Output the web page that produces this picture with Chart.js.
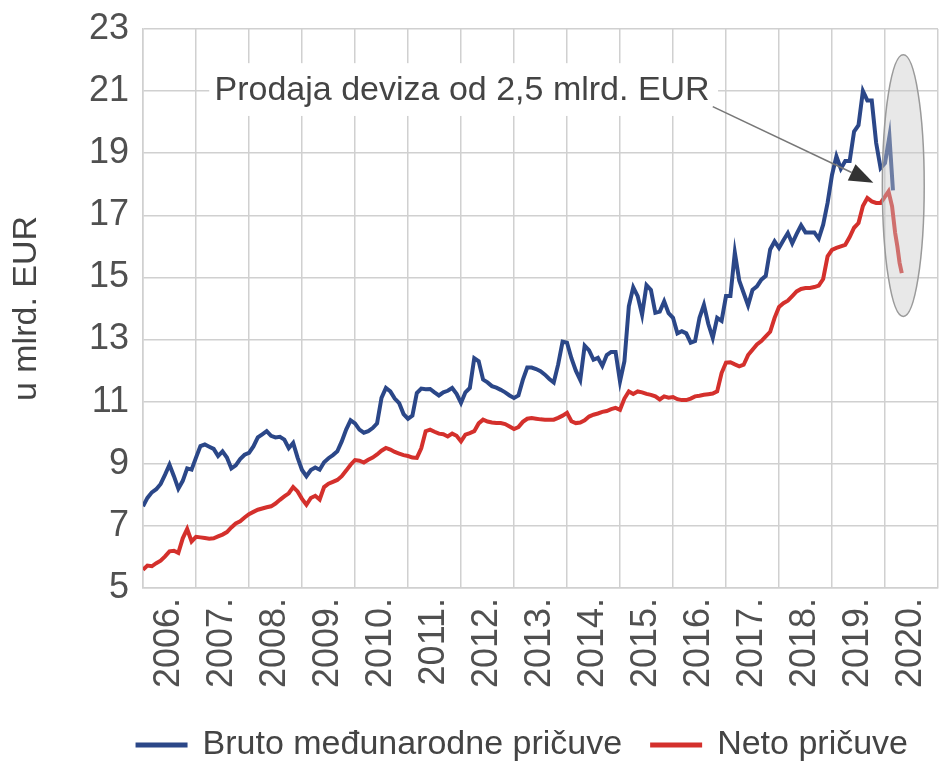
<!DOCTYPE html>
<html>
<head>
<meta charset="utf-8">
<script src="https://cdn.jsdelivr.net/npm/chart.js@4.4.1/dist/chart.umd.min.js"></script>
<style>
  html, body { margin: 0; padding: 0; background: #fff; }
  #wrap { width: 939px; height: 762px; }
</style>
</head>
<body>
<div id="wrap"><canvas id="rezerve"></canvas></div>
<script>
// monthly values, Jan 2006 .. Dec 2019 (mlrd. EUR)
const bruto = [
  7.63, 7.90, 8.08, 8.18, 8.35, 8.65, 8.97, 8.60, 8.20, 8.45, 8.85, 8.81,
  9.20, 9.57, 9.62, 9.55, 9.48, 9.25, 9.40, 9.20, 8.85, 8.95, 9.15, 9.29,
  9.35, 9.56, 9.85, 9.95, 10.05, 9.90, 9.85, 9.87, 9.78, 9.50, 9.67, 9.20,
  8.80, 8.60, 8.80, 8.88, 8.81, 9.05, 9.18, 9.28, 9.40, 9.72, 10.10, 10.40,
  10.30, 10.10, 10.00, 10.05, 10.15, 10.30, 11.12, 11.44, 11.33, 11.10, 10.95, 10.60,
  10.45, 10.55, 11.28, 11.42, 11.40, 11.41, 11.30, 11.20, 11.30, 11.35, 11.44, 11.25,
  10.96, 11.30, 11.44, 12.40, 12.30, 11.71, 11.62, 11.50, 11.45, 11.38, 11.30, 11.20,
  11.12, 11.20, 11.70, 12.10, 12.10, 12.05, 11.98, 11.87, 11.73, 11.62, 12.20, 12.93,
  12.90, 12.40, 12.00, 11.70, 12.80, 12.65, 12.35, 12.41, 12.15, 12.50, 12.60, 12.60,
  11.65, 12.30, 14.07, 14.68, 14.40, 13.80, 14.75, 14.60, 13.86, 13.90, 14.23, 13.85,
  13.70, 13.20, 13.27, 13.20, 12.90, 12.95, 13.70, 14.12, 13.50, 13.05, 13.70, 13.60,
  14.40, 14.40, 15.80, 14.90, 14.50, 14.10, 14.60, 14.71, 14.93, 15.05, 15.90, 16.16,
  15.95, 16.20, 16.43, 16.10, 16.40, 16.68, 16.45, 16.45, 16.45, 16.25, 16.70, 17.40,
  18.30, 18.90, 18.50, 18.75, 18.75, 19.70, 19.90, 21.00, 20.70, 20.70, 19.33, 18.52
];
const neto = [
  5.59, 5.72, 5.70, 5.80, 5.88, 6.02, 6.18, 6.20, 6.13, 6.60, 6.90, 6.50,
  6.65, 6.63, 6.61, 6.59, 6.60, 6.66, 6.72, 6.80, 6.95, 7.08, 7.15, 7.27,
  7.38, 7.45, 7.52, 7.56, 7.60, 7.63, 7.72, 7.84, 7.95, 8.05, 8.25, 8.11,
  7.87, 7.68, 7.90, 7.97, 7.85, 8.25, 8.36, 8.42, 8.48, 8.60, 8.78, 8.97,
  9.12, 9.10, 9.04, 9.13, 9.20, 9.30, 9.42, 9.51, 9.46, 9.38, 9.33, 9.28,
  9.25, 9.20, 9.19, 9.50, 10.05, 10.10, 10.03, 9.97, 9.95, 9.88, 9.97, 9.90,
  9.72, 9.94, 9.99, 10.05, 10.30, 10.42, 10.36, 10.33, 10.31, 10.31, 10.28, 10.20,
  10.12, 10.18, 10.35, 10.45, 10.47, 10.45, 10.43, 10.42, 10.42, 10.42, 10.48, 10.55,
  10.64, 10.37, 10.31, 10.33, 10.40, 10.52, 10.58, 10.62, 10.67, 10.70, 10.76, 10.80,
  10.74, 11.10, 11.33, 11.25, 11.33, 11.30, 11.25, 11.22, 11.17, 11.07, 11.17, 11.13,
  11.15, 11.08, 11.05, 11.05, 11.10, 11.17, 11.19, 11.22, 11.24, 11.26, 11.33, 11.92,
  12.26, 12.27, 12.20, 12.14, 12.19, 12.50, 12.67, 12.84, 12.95, 13.10, 13.25, 13.70,
  14.05, 14.17, 14.25, 14.40, 14.55, 14.63, 14.66, 14.66, 14.69, 14.74, 14.95, 15.68,
  15.89, 15.95, 16.00, 16.05, 16.30, 16.60, 16.75, 17.30, 17.56, 17.45, 17.40, 17.40
];
// 2020: denser observations (month index counted from Jan 2006)
const brutoTailMonths = [168, 169, 169.8];
const brutoTail = [18.68, 19.54, 17.80];
const netoTailMonths = [168, 168.8, 169.6, 170.3, 170.8, 171.3, 171.8];
const netoTail = [17.60, 17.77, 17.29, 16.43, 16.00, 15.47, 15.14];

const years = [2006, 2007, 2008, 2009, 2010, 2011, 2012, 2013, 2014, 2015, 2016, 2017, 2018, 2019, 2020];
const yTicks = [5, 7, 9, 11, 13, 15, 17, 19, 21, 23];
const seriesNames = ['Bruto međunarodne pričuve', 'Neto pričuve'];

const noteText = 'Prodaja deviza od 2,5 mlrd. EUR';
const noteBox = [2007.25, 2016.85, 21.9, 20.2];
const noteAt = [2007.35, 21];
const arrowFrom = [2016.75, 20.5];
const arrowTo = [2019.78, 18.05];
const ring = [2020.345, 17.955, 0.395, 4.215];

const FONT = "'Liberation Sans', Arial, sans-serif";

function toPoints(vals, months) {
  return vals.map((v, i) => ({ x: 2006 + (months ? months[i] : i) / 12, y: v }));
}

const notePlugin = {
  id: 'note',
  afterDatasetsDraw(chart) {
    const ctx = chart.ctx;
    const x = chart.scales.x, y = chart.scales.y;
    ctx.save();
    // white box behind the text
    ctx.fillStyle = '#ffffff';
    const bx1 = x.getPixelForValue(noteBox[0]), bx2 = x.getPixelForValue(noteBox[1]);
    const by1 = y.getPixelForValue(noteBox[2]), by2 = y.getPixelForValue(noteBox[3]);
    ctx.fillRect(bx1, by1, bx2 - bx1, by2 - by1);
    ctx.font = '34px ' + FONT;
    ctx.fillStyle = '#444444';
    ctx.textBaseline = 'middle';
    ctx.textAlign = 'left';
    ctx.fillText(noteText, x.getPixelForValue(noteAt[0]), y.getPixelForValue(noteAt[1]));

    // arrow
    const ax1 = x.getPixelForValue(arrowFrom[0]), ay1 = y.getPixelForValue(arrowFrom[1]);
    const ax2 = x.getPixelForValue(arrowTo[0]), ay2 = y.getPixelForValue(arrowTo[1]);
    const ang = Math.atan2(ay2 - ay1, ax2 - ax1);
    const hl = 24, hw = 9;
    const bxp = ax2 - hl * Math.cos(ang), byp = ay2 - hl * Math.sin(ang);
    ctx.strokeStyle = '#777777';
    ctx.lineWidth = 1.6;
    ctx.beginPath();
    ctx.moveTo(ax1, ay1);
    ctx.lineTo(bxp, byp);
    ctx.stroke();
    ctx.fillStyle = '#333333';
    ctx.beginPath();
    ctx.moveTo(ax2, ay2);
    ctx.lineTo(bxp + hw * Math.sin(ang), byp - hw * Math.cos(ang));
    ctx.lineTo(bxp - hw * Math.sin(ang), byp + hw * Math.cos(ang));
    ctx.closePath();
    ctx.fill();

    // shaded ellipse over the 2020 data
    const cx = x.getPixelForValue(ring[0]), cy = y.getPixelForValue(ring[1]);
    const rx = Math.abs(x.getPixelForValue(ring[0] + ring[2]) - cx);
    const ry = Math.abs(y.getPixelForValue(ring[1] + ring[3]) - cy);
    ctx.beginPath();
    ctx.ellipse(cx, cy, rx, ry, 0, 0, Math.PI * 2);
    ctx.fillStyle = 'rgba(200,200,200,0.42)';
    ctx.fill();
    ctx.strokeStyle = '#9a9a9a';
    ctx.lineWidth = 1.5;
    ctx.stroke();
    ctx.restore();
  }
};

const ctx = document.getElementById('rezerve').getContext('2d');
new Chart(ctx, {
  type: 'line',
  data: {
    datasets: [{
      label: seriesNames[0],
      data: toPoints(bruto).concat(toPoints(brutoTail, brutoTailMonths)),
      borderColor: '#2b4788',
      backgroundColor: '#2b4788',
      borderWidth: 4,
      pointRadius: 0,
      tension: 0
    },
    {
      label: seriesNames[1],
      data: toPoints(neto).concat(toPoints(netoTail, netoTailMonths)),
      borderColor: '#d4302c',
      backgroundColor: '#d4302c',
      borderWidth: 4,
      pointRadius: 0,
      tension: 0
    }]
  },
  options: {
    responsive: true,
    maintainAspectRatio: false,
    animation: false,
    layout: { padding: { top: 29, right: 1, left: 0, bottom: -10 } },
    plugins: {
      tooltip: { enabled: false },
      legend: {
        position: 'bottom',
        align: 'end',
        labels: {
          font: { family: FONT, size: 34 },
          color: '#444444',
          boxWidth: 48,
          boxHeight: 1,
          padding: 30
        }
      }
    },
    scales: {
      x: {
        type: 'linear',
        min: years[0],
        max: years[years.length - 1] + 1,
        grid: { color: '#d0d0d0', lineWidth: 1.5, drawTicks: false },
        border: { color: '#d0d0d0', width: 1.5 },
        afterFit: function(scale) {
          scale.height = 110;
          scale.paddingLeft = 0;
          scale.paddingRight = 0;
        },
        afterBuildTicks: function(scale) {
          scale.ticks = years.concat([years[years.length - 1] + 1]).map(v => ({ value: v }));
        },
        ticks: {
          autoSkip: false,
          minRotation: 90,
          maxRotation: 90,
          labelOffset: 26.5,
          padding: 10,
          color: '#505050',
          font: { family: FONT, size: 36 },
          callback: function(value) { return years.includes(value) ? value + '.' : ''; }
        }
      },
      y: {
        min: yTicks[0],
        max: yTicks[yTicks.length - 1],
        grid: { color: '#d0d0d0', lineWidth: 1.5, drawTicks: false },
        border: { color: '#d0d0d0', width: 1.5 },
        afterFit: function(scale) {
          scale.width = 143;
          scale.paddingTop = 0;
          scale.paddingBottom = 0;
        },
        afterBuildTicks: function(scale) {
          scale.ticks = yTicks.map(v => ({ value: v }));
        },
        title: {
          display: true,
          text: 'u mlrd. EUR',
          color: '#444444',
          font: { family: FONT, size: 34 },
          padding: { top: 6, bottom: 0 }
        },
        ticks: {
          padding: 14,
          color: '#505050',
          font: { family: FONT, size: 36 }
        }
      }
    }
  },
  plugins: [notePlugin]
});
</script>
</body>
</html>
